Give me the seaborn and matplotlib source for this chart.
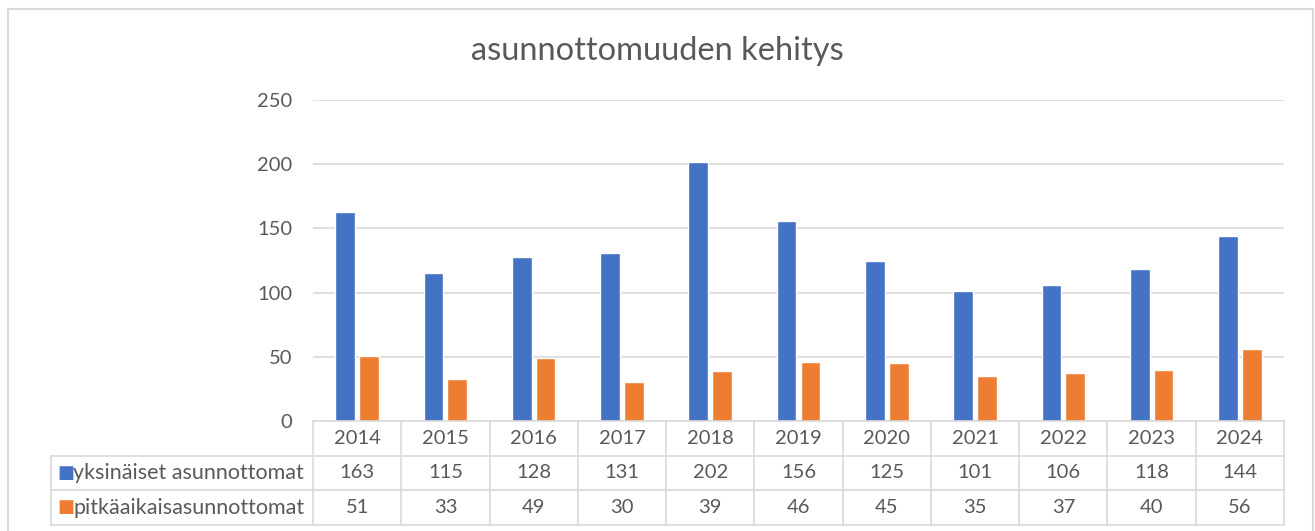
import matplotlib
matplotlib.use("Agg")
import matplotlib.pyplot as plt
import matplotlib.transforms as mtransforms
from matplotlib.patches import Rectangle
import pandas as pd
import seaborn as sns

# data
years = ["2014", "2015", "2016", "2017", "2018", "2019", "2020", "2021", "2022", "2023", "2024"]
yksinaiset = [163, 115, 128, 131, 202, 156, 125, 101, 106, 118, 144]
pitkaaikais = [51, 33, 49, 30, 39, 46, 45, 35, 37, 40, 56]
series_names = ["yksinäiset asunnottomat", "pitkäaikaisasunnottomat"]
colors = ["#4472C4", "#ED7D31"]

df = pd.DataFrame({
    "year": years * 2,
    "value": yksinaiset + pitkaaikais,
    "series": [series_names[0]] * len(years) + [series_names[1]] * len(years),
})

sns.set_style("white")
plt.rcParams["font.family"] = ["Lato", "DejaVu Sans"]
txt = "#595959"
line_c = "#D9D9D9"

fig = plt.figure(figsize=(13.15, 5.31), dpi=100)
ax = fig.add_axes([313 / 1315, 1 - 421 / 531, 971 / 1315, 321 / 531])

sns.barplot(data=df, x="year", y="value", hue="series", palette=colors,
            width=0.54, gap=0.17, legend=False, ax=ax, saturation=1)

ax.set_ylim(0, 250)
ax.set_xlim(-0.5, len(years) - 0.5)
ax.set_yticks(range(0, 251, 50))
ax.yaxis.grid(True, color=line_c, linewidth=1.2)
ax.set_axisbelow(True)
for s in ["top", "right", "left"]:
    ax.spines[s].set_visible(False)
ax.spines["bottom"].set_color(line_c)
ax.spines["bottom"].set_linewidth(1.2)
ax.tick_params(axis="y", length=0, pad=15, labelsize=14.5, labelcolor=txt)
ax.set_xticks([])
ax.set_xlabel("")
ax.set_ylabel("")

fig.text(0.5, 1 - 51 / 531, "asunnottomuuden kehitys", ha="center", va="center",
         fontsize=23.5, color=txt)

# data table under the axes
tr = mtransforms.blended_transform_factory(ax.transData, ax.transAxes)
h = 321
r1, r2, r3 = -35 / h, -69 / h, -104 / h
left = (51 - 313) / 971 * len(years) - 0.5
n = len(years)
kw = dict(color=line_c, linewidth=1.2, transform=tr, clip_on=False)
for y in [r1, r2, r3]:
    ax.plot([left, n - 0.5], [y, y], **kw)
ax.plot([left, left], [r1, r3], **kw)
for i in range(n + 1):
    ax.plot([i - 0.5, i - 0.5], [0, r3], **kw)

rows = [years, [str(v) for v in yksinaiset], [str(v) for v in pitkaaikais]]
mids = [(0 + r1) / 2, (r1 + r2) / 2, (r2 + r3) / 2]
for row, ym in zip(rows, mids):
    for i, t in enumerate(row):
        ax.text(i, ym, t, ha="center", va="center", fontsize=14.5, color=txt,
                transform=tr, clip_on=False)

for name, c, ym in zip(series_names, colors, mids[1:]):
    ax.text(left + 0.07, ym, "■", ha="left", va="center", fontsize=13, color=c,
            transform=tr, clip_on=False, family="DejaVu Sans")
    ax.text(left + 0.25, ym, name, ha="left", va="center", fontsize=15.5, color=txt,
            transform=tr, clip_on=False)

# chart border
fig.patches.append(Rectangle((8 / 1315, -0.05), 1305 / 1315, 1 - 9 / 531 + 0.05,
                             transform=fig.transFigure, fill=False,
                             edgecolor=line_c, linewidth=1.5))

plt.savefig("out.png", dpi=100)
